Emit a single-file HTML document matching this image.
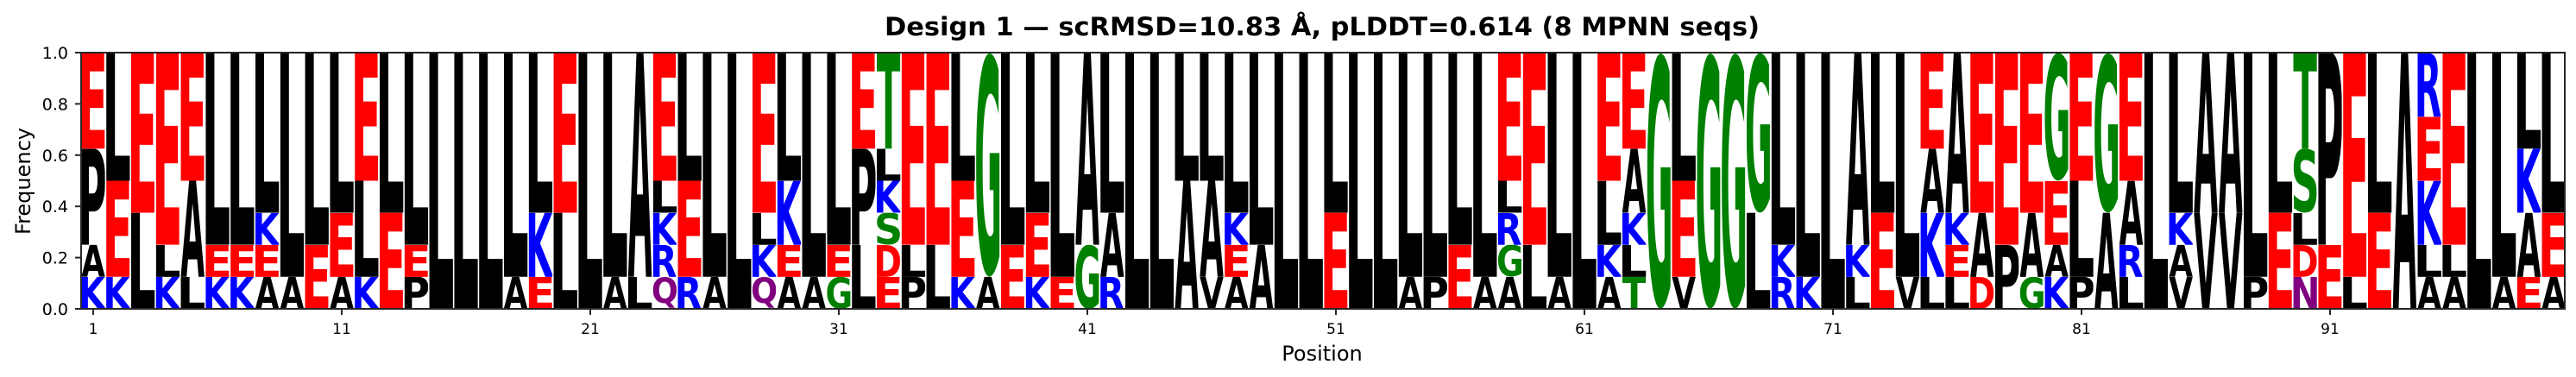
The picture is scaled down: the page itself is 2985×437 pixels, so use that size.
<!DOCTYPE html>
<html><head><meta charset="utf-8"><style>
html,body{margin:0;padding:0;background:#fff}
svg{display:block}
text{font-family:"DejaVu Sans","Liberation Sans",sans-serif}
.l text{font-weight:bold;font-size:100px}
.r{fill:#ff0000}.b{fill:#0000ff}.g{fill:#008000}.p{fill:#800080}.k{fill:#000}
</style></head><body>
<svg width="2985" height="437" viewBox="0 0 2985 437" xmlns="http://www.w3.org/2000/svg">
<rect width="2985" height="437" fill="#fff"/>
<text x="1532" y="41" text-anchor="middle" font-weight="bold" font-size="29" textLength="1014" lengthAdjust="spacingAndGlyphs">Design 1 — scRMSD=10.83 Å, pLDDT=0.614 (8 MPNN seqs)</text>
<g class="l" transform="translate(94.3,61) scale(28.8,37.125)">
<svg x="0" y="7" width=".95" height="1" viewBox="9.1 -72.9 67.9 72.9" preserveAspectRatio="none"><text class="b">K</text></svg>
<svg x="0" y="6" width=".95" height="1" viewBox="0.6 -72.9 76.2 72.9" preserveAspectRatio="none"><text class="k">A</text></svg>
<svg x="0" y="3" width=".95" height="3" viewBox="9.1 -72.9 59.5 72.9" preserveAspectRatio="none"><text class="k">P</text></svg>
<svg x="0" y="0" width=".95" height="3" viewBox="9.1 -72.9 52.6 72.9" preserveAspectRatio="none"><text class="r">E</text></svg>
<svg x="1" y="7" width=".95" height="1" viewBox="9.1 -72.9 67.9 72.9" preserveAspectRatio="none"><text class="b">K</text></svg>
<svg x="1" y="4" width=".95" height="3" viewBox="9.1 -72.9 52.6 72.9" preserveAspectRatio="none"><text class="r">E</text></svg>
<svg x="1" y="0" width=".95" height="4" viewBox="9.1 -72.9 51.1 72.9" preserveAspectRatio="none"><text class="k">L</text></svg>
<svg x="2" y="5" width=".95" height="3" viewBox="9.1 -72.9 51.1 72.9" preserveAspectRatio="none"><text class="k">L</text></svg>
<svg x="2" y="0" width=".95" height="5" viewBox="9.1 -72.9 52.6 72.9" preserveAspectRatio="none"><text class="r">E</text></svg>
<svg x="3" y="7" width=".95" height="1" viewBox="9.1 -72.9 67.9 72.9" preserveAspectRatio="none"><text class="b">K</text></svg>
<svg x="3" y="6" width=".95" height="1" viewBox="9.1 -72.9 51.1 72.9" preserveAspectRatio="none"><text class="k">L</text></svg>
<svg x="3" y="0" width=".95" height="6" viewBox="9.1 -72.9 52.6 72.9" preserveAspectRatio="none"><text class="r">E</text></svg>
<svg x="4" y="7" width=".95" height="1" viewBox="9.1 -72.9 51.1 72.9" preserveAspectRatio="none"><text class="k">L</text></svg>
<svg x="4" y="4" width=".95" height="3" viewBox="0.6 -72.9 76.2 72.9" preserveAspectRatio="none"><text class="k">A</text></svg>
<svg x="4" y="0" width=".95" height="4" viewBox="9.1 -72.9 52.6 72.9" preserveAspectRatio="none"><text class="r">E</text></svg>
<svg x="5" y="7" width=".95" height="1" viewBox="9.1 -72.9 67.9 72.9" preserveAspectRatio="none"><text class="b">K</text></svg>
<svg x="5" y="6" width=".95" height="1" viewBox="9.1 -72.9 52.6 72.9" preserveAspectRatio="none"><text class="r">E</text></svg>
<svg x="5" y="0" width=".95" height="6" viewBox="9.1 -72.9 51.1 72.9" preserveAspectRatio="none"><text class="k">L</text></svg>
<svg x="6" y="7" width=".95" height="1" viewBox="9.1 -72.9 67.9 72.9" preserveAspectRatio="none"><text class="b">K</text></svg>
<svg x="6" y="6" width=".95" height="1" viewBox="9.1 -72.9 52.6 72.9" preserveAspectRatio="none"><text class="r">E</text></svg>
<svg x="6" y="0" width=".95" height="6" viewBox="9.1 -72.9 51.1 72.9" preserveAspectRatio="none"><text class="k">L</text></svg>
<svg x="7" y="7" width=".95" height="1" viewBox="0.6 -72.9 76.2 72.9" preserveAspectRatio="none"><text class="k">A</text></svg>
<svg x="7" y="6" width=".95" height="1" viewBox="9.1 -72.9 52.6 72.9" preserveAspectRatio="none"><text class="r">E</text></svg>
<svg x="7" y="5" width=".95" height="1" viewBox="9.1 -72.9 67.9 72.9" preserveAspectRatio="none"><text class="b">K</text></svg>
<svg x="7" y="0" width=".95" height="5" viewBox="9.1 -72.9 51.1 72.9" preserveAspectRatio="none"><text class="k">L</text></svg>
<svg x="8" y="7" width=".95" height="1" viewBox="0.6 -72.9 76.2 72.9" preserveAspectRatio="none"><text class="k">A</text></svg>
<svg x="8" y="0" width=".95" height="7" viewBox="9.1 -72.9 51.1 72.9" preserveAspectRatio="none"><text class="k">L</text></svg>
<svg x="9" y="6" width=".95" height="2" viewBox="9.1 -72.9 52.6 72.9" preserveAspectRatio="none"><text class="r">E</text></svg>
<svg x="9" y="0" width=".95" height="6" viewBox="9.1 -72.9 51.1 72.9" preserveAspectRatio="none"><text class="k">L</text></svg>
<svg x="10" y="7" width=".95" height="1" viewBox="0.6 -72.9 76.2 72.9" preserveAspectRatio="none"><text class="k">A</text></svg>
<svg x="10" y="5" width=".95" height="2" viewBox="9.1 -72.9 52.6 72.9" preserveAspectRatio="none"><text class="r">E</text></svg>
<svg x="10" y="0" width=".95" height="5" viewBox="9.1 -72.9 51.1 72.9" preserveAspectRatio="none"><text class="k">L</text></svg>
<svg x="11" y="7" width=".95" height="1" viewBox="9.1 -72.9 67.9 72.9" preserveAspectRatio="none"><text class="b">K</text></svg>
<svg x="11" y="4" width=".95" height="3" viewBox="9.1 -72.9 51.1 72.9" preserveAspectRatio="none"><text class="k">L</text></svg>
<svg x="11" y="0" width=".95" height="4" viewBox="9.1 -72.9 52.6 72.9" preserveAspectRatio="none"><text class="r">E</text></svg>
<svg x="12" y="5" width=".95" height="3" viewBox="9.1 -72.9 52.6 72.9" preserveAspectRatio="none"><text class="r">E</text></svg>
<svg x="12" y="0" width=".95" height="5" viewBox="9.1 -72.9 51.1 72.9" preserveAspectRatio="none"><text class="k">L</text></svg>
<svg x="13" y="7" width=".95" height="1" viewBox="9.1 -72.9 59.5 72.9" preserveAspectRatio="none"><text class="k">P</text></svg>
<svg x="13" y="6" width=".95" height="1" viewBox="9.1 -72.9 52.6 72.9" preserveAspectRatio="none"><text class="r">E</text></svg>
<svg x="13" y="0" width=".95" height="6" viewBox="9.1 -72.9 51.1 72.9" preserveAspectRatio="none"><text class="k">L</text></svg>
<svg x="14" y="0" width=".95" height="8" viewBox="9.1 -72.9 51.1 72.9" preserveAspectRatio="none"><text class="k">L</text></svg>
<svg x="15" y="0" width=".95" height="8" viewBox="9.1 -72.9 51.1 72.9" preserveAspectRatio="none"><text class="k">L</text></svg>
<svg x="16" y="0" width=".95" height="8" viewBox="9.1 -72.9 51.1 72.9" preserveAspectRatio="none"><text class="k">L</text></svg>
<svg x="17" y="7" width=".95" height="1" viewBox="0.6 -72.9 76.2 72.9" preserveAspectRatio="none"><text class="k">A</text></svg>
<svg x="17" y="0" width=".95" height="7" viewBox="9.1 -72.9 51.1 72.9" preserveAspectRatio="none"><text class="k">L</text></svg>
<svg x="18" y="7" width=".95" height="1" viewBox="9.1 -72.9 52.6 72.9" preserveAspectRatio="none"><text class="r">E</text></svg>
<svg x="18" y="5" width=".95" height="2" viewBox="9.1 -72.9 67.9 72.9" preserveAspectRatio="none"><text class="b">K</text></svg>
<svg x="18" y="0" width=".95" height="5" viewBox="9.1 -72.9 51.1 72.9" preserveAspectRatio="none"><text class="k">L</text></svg>
<svg x="19" y="5" width=".95" height="3" viewBox="9.1 -72.9 51.1 72.9" preserveAspectRatio="none"><text class="k">L</text></svg>
<svg x="19" y="0" width=".95" height="5" viewBox="9.1 -72.9 52.6 72.9" preserveAspectRatio="none"><text class="r">E</text></svg>
<svg x="20" y="0" width=".95" height="8" viewBox="9.1 -72.9 51.1 72.9" preserveAspectRatio="none"><text class="k">L</text></svg>
<svg x="21" y="7" width=".95" height="1" viewBox="0.6 -72.9 76.2 72.9" preserveAspectRatio="none"><text class="k">A</text></svg>
<svg x="21" y="0" width=".95" height="7" viewBox="9.1 -72.9 51.1 72.9" preserveAspectRatio="none"><text class="k">L</text></svg>
<svg x="22" y="7" width=".95" height="1" viewBox="9.1 -72.9 51.1 72.9" preserveAspectRatio="none"><text class="k">L</text></svg>
<svg x="22" y="0" width=".95" height="7" viewBox="0.6 -72.9 76.2 72.9" preserveAspectRatio="none"><text class="k">A</text></svg>
<svg x="23" y="7" width=".95" height="1" viewBox="5 -74.5 75 92" preserveAspectRatio="none"><text class="p">Q</text></svg>
<svg x="23" y="6" width=".95" height="1" viewBox="9.1 -72.9 66.8 72.9" preserveAspectRatio="none"><text class="b">R</text></svg>
<svg x="23" y="5" width=".95" height="1" viewBox="9.1 -72.9 67.9 72.9" preserveAspectRatio="none"><text class="b">K</text></svg>
<svg x="23" y="4" width=".95" height="1" viewBox="9.1 -72.9 51.1 72.9" preserveAspectRatio="none"><text class="k">L</text></svg>
<svg x="23" y="0" width=".95" height="4" viewBox="9.1 -72.9 52.6 72.9" preserveAspectRatio="none"><text class="r">E</text></svg>
<svg x="24" y="7" width=".95" height="1" viewBox="9.1 -72.9 66.8 72.9" preserveAspectRatio="none"><text class="b">R</text></svg>
<svg x="24" y="4" width=".95" height="3" viewBox="9.1 -72.9 52.6 72.9" preserveAspectRatio="none"><text class="r">E</text></svg>
<svg x="24" y="0" width=".95" height="4" viewBox="9.1 -72.9 51.1 72.9" preserveAspectRatio="none"><text class="k">L</text></svg>
<svg x="25" y="7" width=".95" height="1" viewBox="0.6 -72.9 76.2 72.9" preserveAspectRatio="none"><text class="k">A</text></svg>
<svg x="25" y="0" width=".95" height="7" viewBox="9.1 -72.9 51.1 72.9" preserveAspectRatio="none"><text class="k">L</text></svg>
<svg x="26" y="0" width=".95" height="8" viewBox="9.1 -72.9 51.1 72.9" preserveAspectRatio="none"><text class="k">L</text></svg>
<svg x="27" y="7" width=".95" height="1" viewBox="5 -74.5 75 92" preserveAspectRatio="none"><text class="p">Q</text></svg>
<svg x="27" y="6" width=".95" height="1" viewBox="9.1 -72.9 67.9 72.9" preserveAspectRatio="none"><text class="b">K</text></svg>
<svg x="27" y="5" width=".95" height="1" viewBox="9.1 -72.9 51.1 72.9" preserveAspectRatio="none"><text class="k">L</text></svg>
<svg x="27" y="0" width=".95" height="5" viewBox="9.1 -72.9 52.6 72.9" preserveAspectRatio="none"><text class="r">E</text></svg>
<svg x="28" y="7" width=".95" height="1" viewBox="0.6 -72.9 76.2 72.9" preserveAspectRatio="none"><text class="k">A</text></svg>
<svg x="28" y="6" width=".95" height="1" viewBox="9.1 -72.9 52.6 72.9" preserveAspectRatio="none"><text class="r">E</text></svg>
<svg x="28" y="4" width=".95" height="2" viewBox="9.1 -72.9 67.9 72.9" preserveAspectRatio="none"><text class="b">K</text></svg>
<svg x="28" y="0" width=".95" height="4" viewBox="9.1 -72.9 51.1 72.9" preserveAspectRatio="none"><text class="k">L</text></svg>
<svg x="29" y="7" width=".95" height="1" viewBox="0.6 -72.9 76.2 72.9" preserveAspectRatio="none"><text class="k">A</text></svg>
<svg x="29" y="0" width=".95" height="7" viewBox="9.1 -72.9 51.1 72.9" preserveAspectRatio="none"><text class="k">L</text></svg>
<svg x="30" y="7" width=".95" height="1" viewBox="5 -74.5 70.5 76" preserveAspectRatio="none"><text class="g">G</text></svg>
<svg x="30" y="6" width=".95" height="1" viewBox="9.1 -72.9 52.6 72.9" preserveAspectRatio="none"><text class="r">E</text></svg>
<svg x="30" y="0" width=".95" height="6" viewBox="9.1 -72.9 51.1 72.9" preserveAspectRatio="none"><text class="k">L</text></svg>
<svg x="31" y="6" width=".95" height="2" viewBox="9.1 -72.9 51.1 72.9" preserveAspectRatio="none"><text class="k">L</text></svg>
<svg x="31" y="3" width=".95" height="3" viewBox="9.1 -72.9 59.5 72.9" preserveAspectRatio="none"><text class="k">P</text></svg>
<svg x="31" y="0" width=".95" height="3" viewBox="9.1 -72.9 52.6 72.9" preserveAspectRatio="none"><text class="r">E</text></svg>
<svg x="32" y="7" width=".95" height="1" viewBox="9.1 -72.9 52.6 72.9" preserveAspectRatio="none"><text class="r">E</text></svg>
<svg x="32" y="6" width=".95" height="1" viewBox="9.1 -72.9 69.2 72.9" preserveAspectRatio="none"><text class="r">D</text></svg>
<svg x="32" y="5" width=".95" height="1" viewBox="6.5 -74.5 59.2 76" preserveAspectRatio="none"><text class="g">S</text></svg>
<svg x="32" y="4" width=".95" height="1" viewBox="9.1 -72.9 67.9 72.9" preserveAspectRatio="none"><text class="b">K</text></svg>
<svg x="32" y="3" width=".95" height="1" viewBox="9.1 -72.9 51.1 72.9" preserveAspectRatio="none"><text class="k">L</text></svg>
<svg x="32" y="0" width=".95" height="3" viewBox="0.5 -72.9 67.5 72.9" preserveAspectRatio="none"><text class="g">T</text></svg>
<svg x="33" y="7" width=".95" height="1" viewBox="9.1 -72.9 59.5 72.9" preserveAspectRatio="none"><text class="k">P</text></svg>
<svg x="33" y="6" width=".95" height="1" viewBox="9.1 -72.9 51.1 72.9" preserveAspectRatio="none"><text class="k">L</text></svg>
<svg x="33" y="0" width=".95" height="6" viewBox="9.1 -72.9 52.6 72.9" preserveAspectRatio="none"><text class="r">E</text></svg>
<svg x="34" y="6" width=".95" height="2" viewBox="9.1 -72.9 51.1 72.9" preserveAspectRatio="none"><text class="k">L</text></svg>
<svg x="34" y="0" width=".95" height="6" viewBox="9.1 -72.9 52.6 72.9" preserveAspectRatio="none"><text class="r">E</text></svg>
<svg x="35" y="7" width=".95" height="1" viewBox="9.1 -72.9 67.9 72.9" preserveAspectRatio="none"><text class="b">K</text></svg>
<svg x="35" y="4" width=".95" height="3" viewBox="9.1 -72.9 52.6 72.9" preserveAspectRatio="none"><text class="r">E</text></svg>
<svg x="35" y="0" width=".95" height="4" viewBox="9.1 -72.9 51.1 72.9" preserveAspectRatio="none"><text class="k">L</text></svg>
<svg x="36" y="7" width=".95" height="1" viewBox="0.6 -72.9 76.2 72.9" preserveAspectRatio="none"><text class="k">A</text></svg>
<svg x="36" y="0" width=".95" height="7" viewBox="5 -74.5 70.5 76" preserveAspectRatio="none"><text class="g">G</text></svg>
<svg x="37" y="6" width=".95" height="2" viewBox="9.1 -72.9 52.6 72.9" preserveAspectRatio="none"><text class="r">E</text></svg>
<svg x="37" y="0" width=".95" height="6" viewBox="9.1 -72.9 51.1 72.9" preserveAspectRatio="none"><text class="k">L</text></svg>
<svg x="38" y="7" width=".95" height="1" viewBox="9.1 -72.9 67.9 72.9" preserveAspectRatio="none"><text class="b">K</text></svg>
<svg x="38" y="5" width=".95" height="2" viewBox="9.1 -72.9 52.6 72.9" preserveAspectRatio="none"><text class="r">E</text></svg>
<svg x="38" y="0" width=".95" height="5" viewBox="9.1 -72.9 51.1 72.9" preserveAspectRatio="none"><text class="k">L</text></svg>
<svg x="39" y="7" width=".95" height="1" viewBox="9.1 -72.9 52.6 72.9" preserveAspectRatio="none"><text class="r">E</text></svg>
<svg x="39" y="0" width=".95" height="7" viewBox="9.1 -72.9 51.1 72.9" preserveAspectRatio="none"><text class="k">L</text></svg>
<svg x="40" y="6" width=".95" height="2" viewBox="5 -74.5 70.5 76" preserveAspectRatio="none"><text class="g">G</text></svg>
<svg x="40" y="0" width=".95" height="6" viewBox="0.6 -72.9 76.2 72.9" preserveAspectRatio="none"><text class="k">A</text></svg>
<svg x="41" y="7" width=".95" height="1" viewBox="9.1 -72.9 66.8 72.9" preserveAspectRatio="none"><text class="b">R</text></svg>
<svg x="41" y="5" width=".95" height="2" viewBox="0.6 -72.9 76.2 72.9" preserveAspectRatio="none"><text class="k">A</text></svg>
<svg x="41" y="0" width=".95" height="5" viewBox="9.1 -72.9 51.1 72.9" preserveAspectRatio="none"><text class="k">L</text></svg>
<svg x="42" y="0" width=".95" height="8" viewBox="9.1 -72.9 51.1 72.9" preserveAspectRatio="none"><text class="k">L</text></svg>
<svg x="43" y="0" width=".95" height="8" viewBox="9.1 -72.9 51.1 72.9" preserveAspectRatio="none"><text class="k">L</text></svg>
<svg x="44" y="4" width=".95" height="4" viewBox="0.6 -72.9 76.2 72.9" preserveAspectRatio="none"><text class="k">A</text></svg>
<svg x="44" y="0" width=".95" height="4" viewBox="9.1 -72.9 51.1 72.9" preserveAspectRatio="none"><text class="k">L</text></svg>
<svg x="45" y="7" width=".95" height="1" viewBox="0.6 -72.9 76.2 72.9" preserveAspectRatio="none"><text class="k">V</text></svg>
<svg x="45" y="4" width=".95" height="3" viewBox="0.6 -72.9 76.2 72.9" preserveAspectRatio="none"><text class="k">A</text></svg>
<svg x="45" y="0" width=".95" height="4" viewBox="9.1 -72.9 51.1 72.9" preserveAspectRatio="none"><text class="k">L</text></svg>
<svg x="46" y="7" width=".95" height="1" viewBox="0.6 -72.9 76.2 72.9" preserveAspectRatio="none"><text class="k">A</text></svg>
<svg x="46" y="6" width=".95" height="1" viewBox="9.1 -72.9 52.6 72.9" preserveAspectRatio="none"><text class="r">E</text></svg>
<svg x="46" y="5" width=".95" height="1" viewBox="9.1 -72.9 67.9 72.9" preserveAspectRatio="none"><text class="b">K</text></svg>
<svg x="46" y="0" width=".95" height="5" viewBox="9.1 -72.9 51.1 72.9" preserveAspectRatio="none"><text class="k">L</text></svg>
<svg x="47" y="6" width=".95" height="2" viewBox="0.6 -72.9 76.2 72.9" preserveAspectRatio="none"><text class="k">A</text></svg>
<svg x="47" y="0" width=".95" height="6" viewBox="9.1 -72.9 51.1 72.9" preserveAspectRatio="none"><text class="k">L</text></svg>
<svg x="48" y="0" width=".95" height="8" viewBox="9.1 -72.9 51.1 72.9" preserveAspectRatio="none"><text class="k">L</text></svg>
<svg x="49" y="0" width=".95" height="8" viewBox="9.1 -72.9 51.1 72.9" preserveAspectRatio="none"><text class="k">L</text></svg>
<svg x="50" y="5" width=".95" height="3" viewBox="9.1 -72.9 52.6 72.9" preserveAspectRatio="none"><text class="r">E</text></svg>
<svg x="50" y="0" width=".95" height="5" viewBox="9.1 -72.9 51.1 72.9" preserveAspectRatio="none"><text class="k">L</text></svg>
<svg x="51" y="0" width=".95" height="8" viewBox="9.1 -72.9 51.1 72.9" preserveAspectRatio="none"><text class="k">L</text></svg>
<svg x="52" y="0" width=".95" height="8" viewBox="9.1 -72.9 51.1 72.9" preserveAspectRatio="none"><text class="k">L</text></svg>
<svg x="53" y="7" width=".95" height="1" viewBox="0.6 -72.9 76.2 72.9" preserveAspectRatio="none"><text class="k">A</text></svg>
<svg x="53" y="0" width=".95" height="7" viewBox="9.1 -72.9 51.1 72.9" preserveAspectRatio="none"><text class="k">L</text></svg>
<svg x="54" y="7" width=".95" height="1" viewBox="9.1 -72.9 59.5 72.9" preserveAspectRatio="none"><text class="k">P</text></svg>
<svg x="54" y="0" width=".95" height="7" viewBox="9.1 -72.9 51.1 72.9" preserveAspectRatio="none"><text class="k">L</text></svg>
<svg x="55" y="6" width=".95" height="2" viewBox="9.1 -72.9 52.6 72.9" preserveAspectRatio="none"><text class="r">E</text></svg>
<svg x="55" y="0" width=".95" height="6" viewBox="9.1 -72.9 51.1 72.9" preserveAspectRatio="none"><text class="k">L</text></svg>
<svg x="56" y="7" width=".95" height="1" viewBox="0.6 -72.9 76.2 72.9" preserveAspectRatio="none"><text class="k">A</text></svg>
<svg x="56" y="0" width=".95" height="7" viewBox="9.1 -72.9 51.1 72.9" preserveAspectRatio="none"><text class="k">L</text></svg>
<svg x="57" y="7" width=".95" height="1" viewBox="0.6 -72.9 76.2 72.9" preserveAspectRatio="none"><text class="k">A</text></svg>
<svg x="57" y="6" width=".95" height="1" viewBox="5 -74.5 70.5 76" preserveAspectRatio="none"><text class="g">G</text></svg>
<svg x="57" y="5" width=".95" height="1" viewBox="9.1 -72.9 66.8 72.9" preserveAspectRatio="none"><text class="b">R</text></svg>
<svg x="57" y="4" width=".95" height="1" viewBox="9.1 -72.9 51.1 72.9" preserveAspectRatio="none"><text class="k">L</text></svg>
<svg x="57" y="0" width=".95" height="4" viewBox="9.1 -72.9 52.6 72.9" preserveAspectRatio="none"><text class="r">E</text></svg>
<svg x="58" y="6" width=".95" height="2" viewBox="9.1 -72.9 51.1 72.9" preserveAspectRatio="none"><text class="k">L</text></svg>
<svg x="58" y="0" width=".95" height="6" viewBox="9.1 -72.9 52.6 72.9" preserveAspectRatio="none"><text class="r">E</text></svg>
<svg x="59" y="7" width=".95" height="1" viewBox="0.6 -72.9 76.2 72.9" preserveAspectRatio="none"><text class="k">A</text></svg>
<svg x="59" y="0" width=".95" height="7" viewBox="9.1 -72.9 51.1 72.9" preserveAspectRatio="none"><text class="k">L</text></svg>
<svg x="60" y="0" width=".95" height="8" viewBox="9.1 -72.9 51.1 72.9" preserveAspectRatio="none"><text class="k">L</text></svg>
<svg x="61" y="7" width=".95" height="1" viewBox="0.6 -72.9 76.2 72.9" preserveAspectRatio="none"><text class="k">A</text></svg>
<svg x="61" y="6" width=".95" height="1" viewBox="9.1 -72.9 67.9 72.9" preserveAspectRatio="none"><text class="b">K</text></svg>
<svg x="61" y="4" width=".95" height="2" viewBox="9.1 -72.9 51.1 72.9" preserveAspectRatio="none"><text class="k">L</text></svg>
<svg x="61" y="0" width=".95" height="4" viewBox="9.1 -72.9 52.6 72.9" preserveAspectRatio="none"><text class="r">E</text></svg>
<svg x="62" y="7" width=".95" height="1" viewBox="0.5 -72.9 67.5 72.9" preserveAspectRatio="none"><text class="g">T</text></svg>
<svg x="62" y="6" width=".95" height="1" viewBox="9.1 -72.9 51.1 72.9" preserveAspectRatio="none"><text class="k">L</text></svg>
<svg x="62" y="5" width=".95" height="1" viewBox="9.1 -72.9 67.9 72.9" preserveAspectRatio="none"><text class="b">K</text></svg>
<svg x="62" y="3" width=".95" height="2" viewBox="0.6 -72.9 76.2 72.9" preserveAspectRatio="none"><text class="k">A</text></svg>
<svg x="62" y="0" width=".95" height="3" viewBox="9.1 -72.9 52.6 72.9" preserveAspectRatio="none"><text class="r">E</text></svg>
<svg x="63" y="0" width=".95" height="8" viewBox="5 -74.5 70.5 76" preserveAspectRatio="none"><text class="g">G</text></svg>
<svg x="64" y="7" width=".95" height="1" viewBox="0.6 -72.9 76.2 72.9" preserveAspectRatio="none"><text class="k">V</text></svg>
<svg x="64" y="4" width=".95" height="3" viewBox="9.1 -72.9 52.6 72.9" preserveAspectRatio="none"><text class="r">E</text></svg>
<svg x="64" y="0" width=".95" height="4" viewBox="9.1 -72.9 51.1 72.9" preserveAspectRatio="none"><text class="k">L</text></svg>
<svg x="65" y="0" width=".95" height="8" viewBox="5 -74.5 70.5 76" preserveAspectRatio="none"><text class="g">G</text></svg>
<svg x="66" y="0" width=".95" height="8" viewBox="5 -74.5 70.5 76" preserveAspectRatio="none"><text class="g">G</text></svg>
<svg x="67" y="5" width=".95" height="3" viewBox="9.1 -72.9 51.1 72.9" preserveAspectRatio="none"><text class="k">L</text></svg>
<svg x="67" y="0" width=".95" height="5" viewBox="5 -74.5 70.5 76" preserveAspectRatio="none"><text class="g">G</text></svg>
<svg x="68" y="7" width=".95" height="1" viewBox="9.1 -72.9 66.8 72.9" preserveAspectRatio="none"><text class="b">R</text></svg>
<svg x="68" y="6" width=".95" height="1" viewBox="9.1 -72.9 67.9 72.9" preserveAspectRatio="none"><text class="b">K</text></svg>
<svg x="68" y="0" width=".95" height="6" viewBox="9.1 -72.9 51.1 72.9" preserveAspectRatio="none"><text class="k">L</text></svg>
<svg x="69" y="7" width=".95" height="1" viewBox="9.1 -72.9 67.9 72.9" preserveAspectRatio="none"><text class="b">K</text></svg>
<svg x="69" y="0" width=".95" height="7" viewBox="9.1 -72.9 51.1 72.9" preserveAspectRatio="none"><text class="k">L</text></svg>
<svg x="70" y="0" width=".95" height="8" viewBox="9.1 -72.9 51.1 72.9" preserveAspectRatio="none"><text class="k">L</text></svg>
<svg x="71" y="7" width=".95" height="1" viewBox="9.1 -72.9 51.1 72.9" preserveAspectRatio="none"><text class="k">L</text></svg>
<svg x="71" y="6" width=".95" height="1" viewBox="9.1 -72.9 67.9 72.9" preserveAspectRatio="none"><text class="b">K</text></svg>
<svg x="71" y="0" width=".95" height="6" viewBox="0.6 -72.9 76.2 72.9" preserveAspectRatio="none"><text class="k">A</text></svg>
<svg x="72" y="5" width=".95" height="3" viewBox="9.1 -72.9 52.6 72.9" preserveAspectRatio="none"><text class="r">E</text></svg>
<svg x="72" y="0" width=".95" height="5" viewBox="9.1 -72.9 51.1 72.9" preserveAspectRatio="none"><text class="k">L</text></svg>
<svg x="73" y="7" width=".95" height="1" viewBox="0.6 -72.9 76.2 72.9" preserveAspectRatio="none"><text class="k">V</text></svg>
<svg x="73" y="0" width=".95" height="7" viewBox="9.1 -72.9 51.1 72.9" preserveAspectRatio="none"><text class="k">L</text></svg>
<svg x="74" y="7" width=".95" height="1" viewBox="9.1 -72.9 51.1 72.9" preserveAspectRatio="none"><text class="k">L</text></svg>
<svg x="74" y="5" width=".95" height="2" viewBox="9.1 -72.9 67.9 72.9" preserveAspectRatio="none"><text class="b">K</text></svg>
<svg x="74" y="3" width=".95" height="2" viewBox="0.6 -72.9 76.2 72.9" preserveAspectRatio="none"><text class="k">A</text></svg>
<svg x="74" y="0" width=".95" height="3" viewBox="9.1 -72.9 52.6 72.9" preserveAspectRatio="none"><text class="r">E</text></svg>
<svg x="75" y="7" width=".95" height="1" viewBox="9.1 -72.9 51.1 72.9" preserveAspectRatio="none"><text class="k">L</text></svg>
<svg x="75" y="6" width=".95" height="1" viewBox="9.1 -72.9 52.6 72.9" preserveAspectRatio="none"><text class="r">E</text></svg>
<svg x="75" y="5" width=".95" height="1" viewBox="9.1 -72.9 67.9 72.9" preserveAspectRatio="none"><text class="b">K</text></svg>
<svg x="75" y="0" width=".95" height="5" viewBox="0.6 -72.9 76.2 72.9" preserveAspectRatio="none"><text class="k">A</text></svg>
<svg x="76" y="7" width=".95" height="1" viewBox="9.1 -72.9 69.2 72.9" preserveAspectRatio="none"><text class="r">D</text></svg>
<svg x="76" y="5" width=".95" height="2" viewBox="0.6 -72.9 76.2 72.9" preserveAspectRatio="none"><text class="k">A</text></svg>
<svg x="76" y="0" width=".95" height="5" viewBox="9.1 -72.9 52.6 72.9" preserveAspectRatio="none"><text class="r">E</text></svg>
<svg x="77" y="6" width=".95" height="2" viewBox="9.1 -72.9 59.5 72.9" preserveAspectRatio="none"><text class="k">P</text></svg>
<svg x="77" y="0" width=".95" height="6" viewBox="9.1 -72.9 52.6 72.9" preserveAspectRatio="none"><text class="r">E</text></svg>
<svg x="78" y="7" width=".95" height="1" viewBox="5 -74.5 70.5 76" preserveAspectRatio="none"><text class="g">G</text></svg>
<svg x="78" y="5" width=".95" height="2" viewBox="0.6 -72.9 76.2 72.9" preserveAspectRatio="none"><text class="k">A</text></svg>
<svg x="78" y="0" width=".95" height="5" viewBox="9.1 -72.9 52.6 72.9" preserveAspectRatio="none"><text class="r">E</text></svg>
<svg x="79" y="7" width=".95" height="1" viewBox="9.1 -72.9 67.9 72.9" preserveAspectRatio="none"><text class="b">K</text></svg>
<svg x="79" y="6" width=".95" height="1" viewBox="0.6 -72.9 76.2 72.9" preserveAspectRatio="none"><text class="k">A</text></svg>
<svg x="79" y="4" width=".95" height="2" viewBox="9.1 -72.9 52.6 72.9" preserveAspectRatio="none"><text class="r">E</text></svg>
<svg x="79" y="0" width=".95" height="4" viewBox="5 -74.5 70.5 76" preserveAspectRatio="none"><text class="g">G</text></svg>
<svg x="80" y="7" width=".95" height="1" viewBox="9.1 -72.9 59.5 72.9" preserveAspectRatio="none"><text class="k">P</text></svg>
<svg x="80" y="4" width=".95" height="3" viewBox="9.1 -72.9 51.1 72.9" preserveAspectRatio="none"><text class="k">L</text></svg>
<svg x="80" y="0" width=".95" height="4" viewBox="9.1 -72.9 52.6 72.9" preserveAspectRatio="none"><text class="r">E</text></svg>
<svg x="81" y="5" width=".95" height="3" viewBox="0.6 -72.9 76.2 72.9" preserveAspectRatio="none"><text class="k">A</text></svg>
<svg x="81" y="0" width=".95" height="5" viewBox="5 -74.5 70.5 76" preserveAspectRatio="none"><text class="g">G</text></svg>
<svg x="82" y="7" width=".95" height="1" viewBox="9.1 -72.9 51.1 72.9" preserveAspectRatio="none"><text class="k">L</text></svg>
<svg x="82" y="6" width=".95" height="1" viewBox="9.1 -72.9 66.8 72.9" preserveAspectRatio="none"><text class="b">R</text></svg>
<svg x="82" y="4" width=".95" height="2" viewBox="0.6 -72.9 76.2 72.9" preserveAspectRatio="none"><text class="k">A</text></svg>
<svg x="82" y="0" width=".95" height="4" viewBox="9.1 -72.9 52.6 72.9" preserveAspectRatio="none"><text class="r">E</text></svg>
<svg x="83" y="0" width=".95" height="8" viewBox="9.1 -72.9 51.1 72.9" preserveAspectRatio="none"><text class="k">L</text></svg>
<svg x="84" y="7" width=".95" height="1" viewBox="0.6 -72.9 76.2 72.9" preserveAspectRatio="none"><text class="k">V</text></svg>
<svg x="84" y="6" width=".95" height="1" viewBox="0.6 -72.9 76.2 72.9" preserveAspectRatio="none"><text class="k">A</text></svg>
<svg x="84" y="5" width=".95" height="1" viewBox="9.1 -72.9 67.9 72.9" preserveAspectRatio="none"><text class="b">K</text></svg>
<svg x="84" y="0" width=".95" height="5" viewBox="9.1 -72.9 51.1 72.9" preserveAspectRatio="none"><text class="k">L</text></svg>
<svg x="85" y="5" width=".95" height="3" viewBox="0.6 -72.9 76.2 72.9" preserveAspectRatio="none"><text class="k">V</text></svg>
<svg x="85" y="0" width=".95" height="5" viewBox="0.6 -72.9 76.2 72.9" preserveAspectRatio="none"><text class="k">A</text></svg>
<svg x="86" y="5" width=".95" height="3" viewBox="0.6 -72.9 76.2 72.9" preserveAspectRatio="none"><text class="k">V</text></svg>
<svg x="86" y="0" width=".95" height="5" viewBox="0.6 -72.9 76.2 72.9" preserveAspectRatio="none"><text class="k">A</text></svg>
<svg x="87" y="7" width=".95" height="1" viewBox="9.1 -72.9 59.5 72.9" preserveAspectRatio="none"><text class="k">P</text></svg>
<svg x="87" y="0" width=".95" height="7" viewBox="9.1 -72.9 51.1 72.9" preserveAspectRatio="none"><text class="k">L</text></svg>
<svg x="88" y="5" width=".95" height="3" viewBox="9.1 -72.9 52.6 72.9" preserveAspectRatio="none"><text class="r">E</text></svg>
<svg x="88" y="0" width=".95" height="5" viewBox="9.1 -72.9 51.1 72.9" preserveAspectRatio="none"><text class="k">L</text></svg>
<svg x="89" y="7" width=".95" height="1" viewBox="9.1 -72.9 65.6 72.9" preserveAspectRatio="none"><text class="p">N</text></svg>
<svg x="89" y="6" width=".95" height="1" viewBox="9.1 -72.9 69.2 72.9" preserveAspectRatio="none"><text class="r">D</text></svg>
<svg x="89" y="5" width=".95" height="1" viewBox="9.1 -72.9 51.1 72.9" preserveAspectRatio="none"><text class="k">L</text></svg>
<svg x="89" y="3" width=".95" height="2" viewBox="6.5 -74.5 59.2 76" preserveAspectRatio="none"><text class="g">S</text></svg>
<svg x="89" y="0" width=".95" height="3" viewBox="0.5 -72.9 67.5 72.9" preserveAspectRatio="none"><text class="g">T</text></svg>
<svg x="90" y="6" width=".95" height="2" viewBox="9.1 -72.9 52.6 72.9" preserveAspectRatio="none"><text class="r">E</text></svg>
<svg x="90" y="0" width=".95" height="6" viewBox="9.1 -72.9 59.5 72.9" preserveAspectRatio="none"><text class="k">P</text></svg>
<svg x="91" y="7" width=".95" height="1" viewBox="9.1 -72.9 51.1 72.9" preserveAspectRatio="none"><text class="k">L</text></svg>
<svg x="91" y="0" width=".95" height="7" viewBox="9.1 -72.9 52.6 72.9" preserveAspectRatio="none"><text class="r">E</text></svg>
<svg x="92" y="5" width=".95" height="3" viewBox="9.1 -72.9 52.6 72.9" preserveAspectRatio="none"><text class="r">E</text></svg>
<svg x="92" y="0" width=".95" height="5" viewBox="9.1 -72.9 51.1 72.9" preserveAspectRatio="none"><text class="k">L</text></svg>
<svg x="93" y="0" width=".95" height="8" viewBox="0.6 -72.9 76.2 72.9" preserveAspectRatio="none"><text class="k">A</text></svg>
<svg x="94" y="7" width=".95" height="1" viewBox="0.6 -72.9 76.2 72.9" preserveAspectRatio="none"><text class="k">A</text></svg>
<svg x="94" y="6" width=".95" height="1" viewBox="9.1 -72.9 51.1 72.9" preserveAspectRatio="none"><text class="k">L</text></svg>
<svg x="94" y="4" width=".95" height="2" viewBox="9.1 -72.9 67.9 72.9" preserveAspectRatio="none"><text class="b">K</text></svg>
<svg x="94" y="2" width=".95" height="2" viewBox="9.1 -72.9 52.6 72.9" preserveAspectRatio="none"><text class="r">E</text></svg>
<svg x="94" y="0" width=".95" height="2" viewBox="9.1 -72.9 66.8 72.9" preserveAspectRatio="none"><text class="b">R</text></svg>
<svg x="95" y="7" width=".95" height="1" viewBox="0.6 -72.9 76.2 72.9" preserveAspectRatio="none"><text class="k">A</text></svg>
<svg x="95" y="6" width=".95" height="1" viewBox="9.1 -72.9 51.1 72.9" preserveAspectRatio="none"><text class="k">L</text></svg>
<svg x="95" y="0" width=".95" height="6" viewBox="9.1 -72.9 52.6 72.9" preserveAspectRatio="none"><text class="r">E</text></svg>
<svg x="96" y="0" width=".95" height="8" viewBox="9.1 -72.9 51.1 72.9" preserveAspectRatio="none"><text class="k">L</text></svg>
<svg x="97" y="7" width=".95" height="1" viewBox="0.6 -72.9 76.2 72.9" preserveAspectRatio="none"><text class="k">A</text></svg>
<svg x="97" y="0" width=".95" height="7" viewBox="9.1 -72.9 51.1 72.9" preserveAspectRatio="none"><text class="k">L</text></svg>
<svg x="98" y="7" width=".95" height="1" viewBox="9.1 -72.9 52.6 72.9" preserveAspectRatio="none"><text class="r">E</text></svg>
<svg x="98" y="5" width=".95" height="2" viewBox="0.6 -72.9 76.2 72.9" preserveAspectRatio="none"><text class="k">A</text></svg>
<svg x="98" y="3" width=".95" height="2" viewBox="9.1 -72.9 67.9 72.9" preserveAspectRatio="none"><text class="b">K</text></svg>
<svg x="98" y="0" width=".95" height="3" viewBox="9.1 -72.9 51.1 72.9" preserveAspectRatio="none"><text class="k">L</text></svg>
<svg x="99" y="7" width=".95" height="1" viewBox="0.6 -72.9 76.2 72.9" preserveAspectRatio="none"><text class="k">A</text></svg>
<svg x="99" y="5" width=".95" height="2" viewBox="9.1 -72.9 52.6 72.9" preserveAspectRatio="none"><text class="r">E</text></svg>
<svg x="99" y="0" width=".95" height="5" viewBox="9.1 -72.9 51.1 72.9" preserveAspectRatio="none"><text class="k">L</text></svg>
</g>
<rect x="94" y="61" width="2878" height="297" fill="none" stroke="#262626" stroke-width="2"/>
<g stroke="#262626" stroke-width="2">
<line x1="87" y1="358" x2="94" y2="358"/><line x1="87" y1="298.6" x2="94" y2="298.6"/><line x1="87" y1="239.2" x2="94" y2="239.2"/><line x1="87" y1="179.8" x2="94" y2="179.8"/><line x1="87" y1="120.4" x2="94" y2="120.4"/><line x1="87" y1="61" x2="94" y2="61"/>
<line x1="108" y1="358" x2="108" y2="365"/><line x1="396" y1="358" x2="396" y2="365"/><line x1="684" y1="358" x2="684" y2="365"/><line x1="972" y1="358" x2="972" y2="365"/><line x1="1260" y1="358" x2="1260" y2="365"/><line x1="1548" y1="358" x2="1548" y2="365"/><line x1="1836" y1="358" x2="1836" y2="365"/><line x1="2124" y1="358" x2="2124" y2="365"/><line x1="2412" y1="358" x2="2412" y2="365"/><line x1="2700" y1="358" x2="2700" y2="365"/>
</g>
<g font-size="19" text-anchor="end" fill="#000">
<text x="79" y="365">0.0</text><text x="79" y="305.6">0.2</text><text x="79" y="246.2">0.4</text><text x="79" y="186.8">0.6</text><text x="79" y="127.4">0.8</text><text x="79" y="68">1.0</text>
</g>
<g font-size="17" text-anchor="middle" fill="#000">
<text x="108" y="387">1</text><text x="396" y="387">11</text><text x="684" y="387">21</text><text x="972" y="387">31</text><text x="1260" y="387">41</text><text x="1548" y="387">51</text><text x="1836" y="387">61</text><text x="2124" y="387">71</text><text x="2412" y="387">81</text><text x="2700" y="387">91</text>
</g>
<text x="1532" y="418" font-size="24" text-anchor="middle">Position</text>
<text transform="translate(35,210) rotate(-90)" font-size="24" text-anchor="middle">Frequency</text>
</svg>
</body></html>
